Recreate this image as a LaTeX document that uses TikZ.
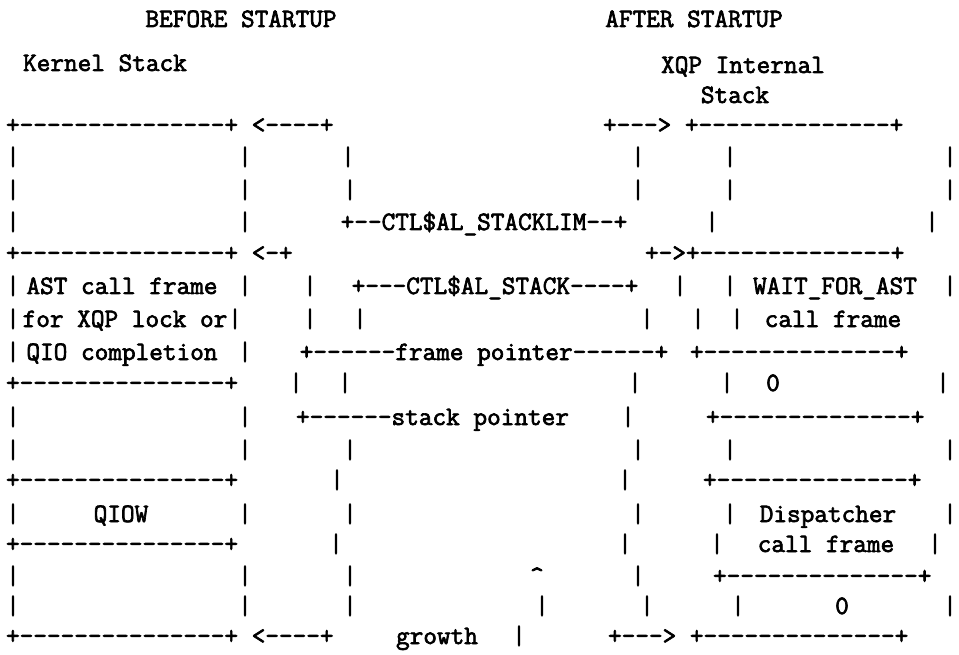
\documentclass[tikz,border=0pt]{standalone}
\usepackage{fontspec}
\newfontfamily\asciifont{Latin Modern Mono}[FakeBold=2.5]
\newcounter{nd}
\tikzset{
  ch/.style={anchor=base,inner sep=0pt,outer sep=0pt,font=\asciifont\fontsize{26.5}{30}\selectfont},
  lt/.style={anchor=base west,inner sep=0pt,outer sep=0pt,font=\asciifont\fontsize{26.5}{30}\selectfont}
}
% centre x of text, centre y of row
\newcommand\At[3]{\stepcounter{nd}\node[ch] (c\arabic{nd}) at (#1,#2+8) {#3};}
% centre x of first character, centre y of row
\newcommand\Lt[3]{\stepcounter{nd}\node[lt] (c\arabic{nd}) at (#1-6.95,#2+8) {#3};}
\newcommand\Bars[2]{\foreach \xx in {#2} {\At{\xx}{#1}{|}}}
\begin{document}
\begin{tikzpicture}[x=1pt,y=-1pt]
\useasboundingbox[fill=white] (0,0) rectangle (959,655);
% headers
\At{241}{19}{BEFORE STARTUP}
\At{694}{19}{AFTER STARTUP}
\At{105}{63}{Kernel Stack}
\At{743}{65}{XQP Internal}
\At{735}{95}{Stack}
% row 1
\Lt{13}{125}{+---------------+ <----+}
\Lt{610}{125}{+---> +--------------+}
% row 2
\Bars{157}{13,245,348,638,730,950}
% row 3
\Bars{190}{13,245,350,638,730,950}
% row 4
\Bars{222}{13,245,712,932}
\At{484}{222}{+--CTL\$AL\_STACKLIM--+}
% row 5
\Lt{13}{253}{+---------------+ <-+}
\Lt{652}{253}{+->+--------------+}
% row 6
\Bars{286}{13,245,310,680,730,950}
\At{122}{286}{AST call frame}
\At{495}{286}{+---CTL\$AL\_STACK----+}
\At{835}{286}{WAIT\_FOR\_AST}
% row 7
\Bars{319}{13,235,310,360,647,698,737}
\At{125}{319}{for XQP lock or}
\At{833}{319}{call frame}
% row 8
\Bars{352}{13,245}
\At{122}{352}{QIO completion}
\At{484}{352}{+------frame pointer------+}
\Lt{697}{352}{+--------------+}
% row 9
\Lt{13}{383}{+---------------+}
\Bars{383}{296,345,635,727,943}
\At{773}{383}{0}
% row 10
\Bars{417}{13,245,628}
\Lt{303}{417}{+------stack pointer}
\Lt{713}{417}{+--------------+}
% row 11
\Bars{450}{13,245,350,638,730,950}
% row 12
\Lt{13}{480}{+---------------+}
\Bars{480}{337,625}
\Lt{710}{480}{+--------------+}
% row 13
\Bars{514}{13,245,350,638,730,950}
\At{121}{514}{QIOW}
\At{828}{514}{Dispatcher}
% row 14
\Lt{13}{544}{+---------------+}
\Bars{544}{336,625,717,935}
\At{826}{544}{call frame}
% row 15
\Bars{576}{13,245,350,638}
\At{537}{576}{\textasciicircum}
\Lt{720}{576}{+--------------+}
% row 16
\Bars{606}{13,245,350,542,647,738,950}
\At{842}{606}{0}
% row 17
\Lt{13}{636}{+---------------+ <----+}
\At{437}{636}{growth}
\Bars{636}{519}
\Lt{615}{636}{+---> +--------------+}
\end{tikzpicture}
\end{document}
